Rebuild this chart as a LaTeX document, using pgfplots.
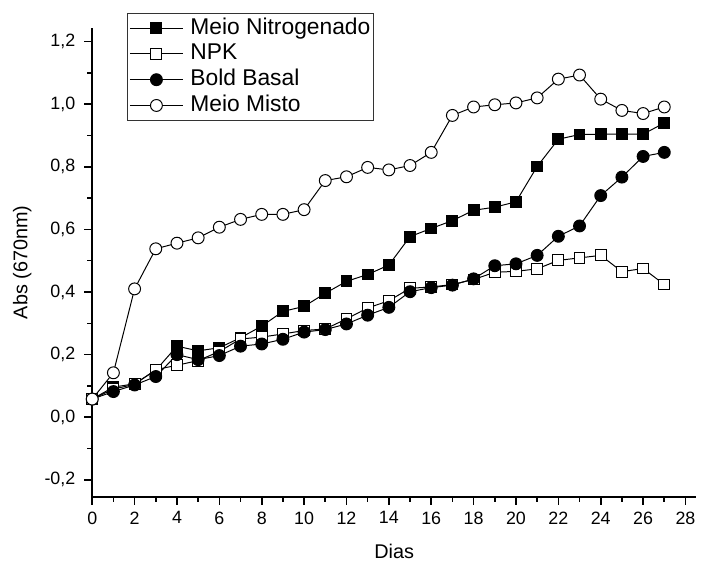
\documentclass[border=0pt]{standalone}
\usepackage{fontspec}
\setmainfont{Liberation Sans}
\usepackage{pgfplots}
\pgfplotsset{compat=1.18}
\usepackage{pgfplotstable}

% days vs absorbance (670 nm)
\pgfplotstableread{
d  nitro  npk    bold   misto
0  0.058  0.058  0.058  0.058
1  0.096  0.090  0.082  0.142
2  0.107  0.105  0.103  0.410
3  0.150  0.152  0.130  0.538
4  0.227  0.166  0.200  0.556
5  0.212  0.181  0.184  0.573
6  0.222  0.210  0.197  0.607
7  0.254  0.250  0.227  0.632
8  0.291  0.256  0.234  0.648
9  0.338  0.266  0.249  0.648
10 0.354  0.277  0.272  0.663
11 0.396  0.282  0.280  0.756
12 0.434  0.314  0.298  0.768
13 0.456  0.349  0.326  0.798
14 0.486  0.372  0.351  0.790
15 0.577  0.412  0.401  0.804
16 0.603  0.416  0.414  0.846
17 0.628  0.424  0.422  0.964
18 0.661  0.440  0.442  0.991
19 0.671  0.463  0.484  0.998
20 0.688  0.466  0.490  1.004
21 0.801  0.474  0.517  1.020
22 0.888  0.501  0.578  1.080
23 0.903  0.509  0.611  1.093
24 0.904  0.517  0.708  1.016
25 0.904  0.465  0.767  0.980
26 0.904  0.475  0.833  0.970
27 0.940  0.424  0.846  0.991
}\absdata

\begin{document}
\begin{tikzpicture}
\begin{axis}[
  scale only axis,
  width=304.5pt, height=236.5pt,
  xmin=0, xmax=28.5, ymin=-0.254, ymax=1.244,
  axis x line*=bottom, axis y line*=left,
  axis line style={-, line width=1pt},
  tick align=outside,
  tick style={black, line width=0.8pt},
  major tick length=4pt, minor tick length=2.5pt,
  xtick={0,2,...,28}, minor x tick num=1,
  ytick={-0.2,0,0.2,0.4,0.6,0.8,1.0,1.2}, minor y tick num=1,
  tick label style={font=\fontsize{9}{10}\selectfont},
  yticklabel style={xshift=-1pt},
  /pgf/number format/assume math mode=true,
  /pgf/number format/use comma,
  yticklabel style={/pgf/number format/.cd, fixed, fixed zerofill, precision=1},
  xlabel={Dias}, ylabel={Abs (670nm)},
  label style={font=\fontsize{11}{13}\selectfont},
  every axis x label/.style={at={(axis description cs:0.5,0)}, anchor=base, yshift=-31pt},
  every axis y label/.style={at={(axis description cs:-0.116,0.5)}, rotate=90, anchor=center},
  legend style={at={(axis description cs:0.0575,1.032)}, anchor=north west,
    draw=black!80, line width=0.5pt, font=\fontsize{11.5}{13}\selectfont,
    inner sep=1pt, row sep=0pt, fill=white,
    nodes={text height=9pt, text depth=3pt, inner sep=0.5pt},
    /tikz/every odd column/.append style={column sep=3pt}},
  legend cell align=left,
  legend image code/.code={
    \draw[mark repeat=2, mark phase=2, #1] plot coordinates {(0cm,0cm) (0.47cm,0cm) (0.94cm,0cm)};
  },
  every axis plot/.append style={black, line width=0.5pt},
  clip=false,
]
\addplot[mark=square*, mark size=2.75pt, mark options={fill=black}] table[x=d, y=nitro] {\absdata};
\addlegendentry{Meio Nitrogenado}
\addplot[mark=square*, mark size=2.75pt, mark options={fill=white}] table[x=d, y=npk] {\absdata};
\addlegendentry{NPK}
\addplot[mark=*, mark size=3pt, mark options={fill=black}] table[x=d, y=bold] {\absdata};
\addlegendentry{Bold Basal}
\addplot[mark=*, mark size=3pt, mark options={fill=white}] table[x=d, y=misto] {\absdata};
\addlegendentry{Meio Misto}
\end{axis}
% frame the page like the reference
\path (current axis.south west) +(-46.5pt,-33pt) (current axis.north east) +(0pt,14pt);
\end{tikzpicture}
\end{document}
